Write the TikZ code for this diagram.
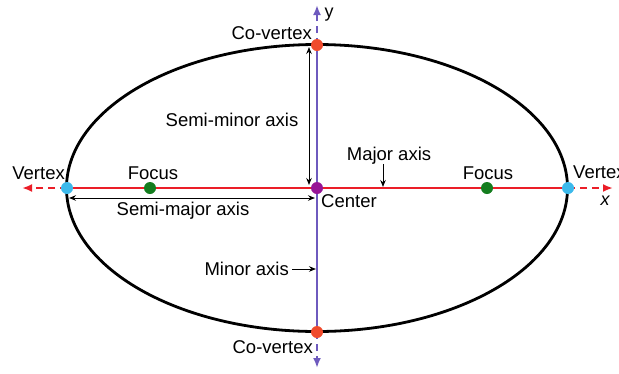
\documentclass[tikz,border=0pt]{standalone}
\usepackage{fontspec}
\setmainfont{Liberation Sans}
\usetikzlibrary{arrows.meta}
\definecolor{majorred}{RGB}{235,30,40}
\definecolor{minorblue}{RGB}{110,90,190}
\definecolor{vertexcyan}{RGB}{60,185,235}
\definecolor{focusgreen}{RGB}{20,125,30}
\definecolor{centerpurple}{RGB}{150,20,150}
\definecolor{covertexred}{RGB}{240,75,45}
\tikzset{
  dot/.style={circle, inner sep=0pt, minimum size=12pt},
  majorline/.style={majorred, line width=2pt},
  minorline/.style={minorblue, line width=2.4pt},
  axisend/.style={dash pattern=on 7pt off 5pt, -{Latex[length=10pt, width=8pt]}},
  pointer/.style={-{Stealth[length=7pt, width=5.5pt]}, black, line width=1pt}
}
\begin{document}
\begin{tikzpicture}[x=1pt, y=-1pt, font=\fontsize{18.5}{20}\selectfont]
\useasboundingbox (0,0) rectangle (619,373);

% points of the ellipse
\coordinate (vl) at (67,188);
\coordinate (vr) at (568,188);
\coordinate (fl) at (150,188);
\coordinate (fr) at (487,188);
\coordinate (o) at (317,188);
\coordinate (ct) at (317,45);
\coordinate (cb) at (317,332);
\coordinate (xl) at (22,188);
\coordinate (xr) at (613,188);
\coordinate (yt) at (317,5);
\coordinate (yb) at (317,368);

\draw[line width=2.8pt] (o) ellipse [x radius=250.5, y radius=143.5];

% axes
\draw[majorline] (vl) -- (vr);
\draw[majorline, axisend] (vl) -- (xl);
\draw[majorline, axisend] (vr) -- (xr);
\draw[minorline] (ct) -- (cb);
\draw[minorline, axisend] (ct) -- (yt);
\draw[minorline, axisend] (cb) -- (yb);

% dots
\node[dot, fill=vertexcyan] (vl dot) at (vl) {};
\node[dot, fill=vertexcyan] (vr dot) at (vr) {};
\node[dot, fill=focusgreen] (fl dot) at (fl) {};
\node[dot, fill=focusgreen] (fr dot) at (fr) {};
\node[dot, fill=centerpurple] (o dot) at (o) {};
\node[dot, fill=covertexred] (ct dot) at (ct) {};
\node[dot, fill=covertexred] (cb dot) at (cb) {};

% labels
\node[anchor=east, inner sep=0pt] (covertex top) at (312,33) {Co-vertex};
\node[anchor=east, inner sep=0pt] (covertex bottom) at (313,347) {Co-vertex};
\node[anchor=east, inner sep=0pt] (vertex left) at (65,173) {Vertex};
\node[anchor=west, inner sep=0pt] (vertex right) at (573,172) {Vertex};
\node[inner sep=0pt] (focus left) at (153,173) {Focus};
\node[inner sep=0pt] (focus right) at (488,173) {Focus};
\node[anchor=west, inner sep=0pt] (center) at (321,201) {Center};
\node[inner sep=0pt] (major) at (389,156) {Major axis};
\node[inner sep=0pt] (semiminor) at (232,120) {Semi-minor axis};
\node[inner sep=0pt] (semimajor) at (183,211) {Semi-major axis};
\node[anchor=east, inner sep=0pt] (minor) at (289,269) {Minor axis};
\node[font=\fontsize{18}{20}\selectfont\rmfamily\itshape, inner sep=0pt] (xname) at (605,201) {x};
\node[font=\fontsize{18}{20}\selectfont\rmfamily, inner sep=0pt] (yname) at (329,15) {y};

% pointers
\coordinate (major tip) at (383,187);
\coordinate (minor tip) at (316,269);
\coordinate (semiminor top) at (309,47);
\coordinate (semiminor bottom) at (309,185);
\coordinate (semimajor left) at (69,198);
\coordinate (semimajor right) at (315,198);
\draw[pointer] (major.south -| major tip) ++(0,-1) -- (major tip);
\draw[pointer] (minor.east) ++(3,0) -- (minor tip);
\draw[pointer, {Stealth[length=7pt, width=5.5pt]}-{Stealth[length=7pt, width=5.5pt]}] (semiminor top) -- (semiminor bottom);
\draw[pointer, {Stealth[length=7pt, width=5.5pt]}-{Stealth[length=7pt, width=5.5pt]}] (semimajor left) -- (semimajor right);
\end{tikzpicture}
\end{document}
